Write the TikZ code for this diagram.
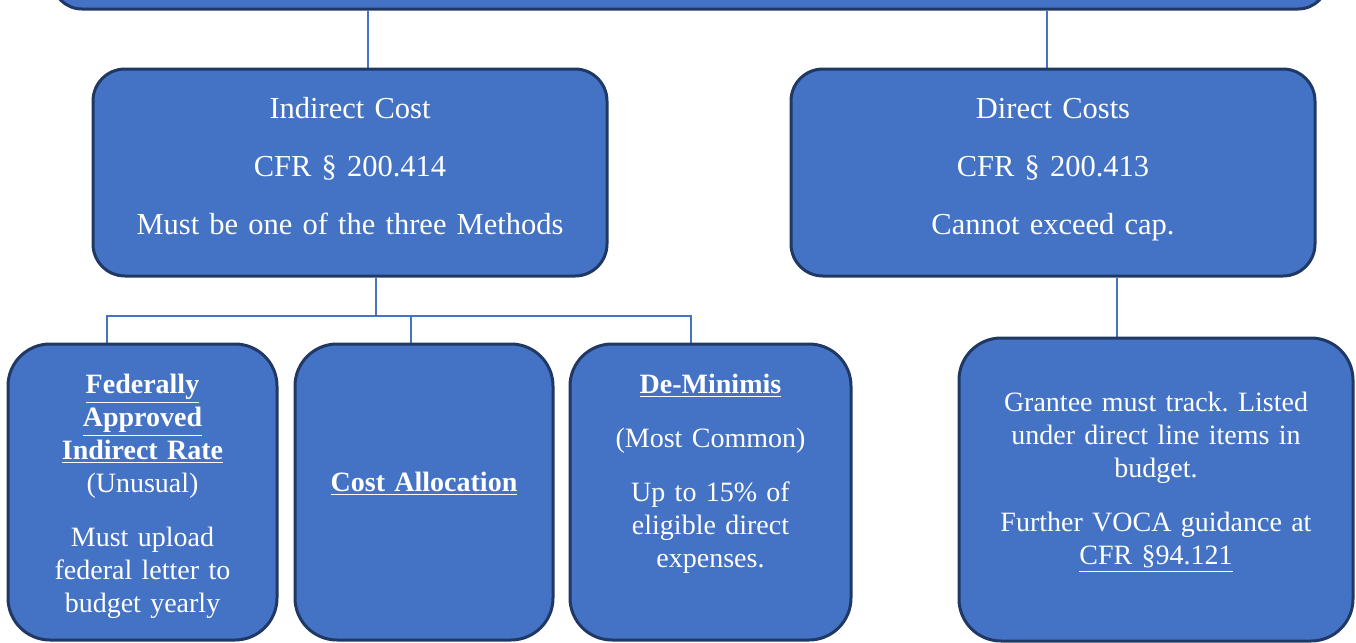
\documentclass[tikz,border=0pt]{standalone}
\usepackage{fontspec}
\setmainfont{Liberation Serif}
\usepackage{xcolor}
\definecolor{boxfill}{RGB}{68,114,196}
\definecolor{boxline}{RGB}{32,56,100}
\definecolor{wire}{RGB}{68,114,196}
\usepackage{tikz}
\usetikzlibrary{positioning}
\usetikzlibrary{backgrounds}
\newcommand{\lift}[1]{\par\vspace*{#1}}
\frenchspacing

\begin{document}
\begin{tikzpicture}[x=0.5pt,y=-0.5pt,
  box/.style={draw=boxline,fill=boxfill,line width=1.5pt,rounded corners=16pt,text=white,align=center},
  mid/.style={box,minimum width=257pt,minimum height=103.5pt,text width=230pt,font=\fontsize{15.25}{29}\selectfont},
  low/.style={box,rounded corners=21pt,minimum height=148pt,font=\fontsize{14}{16.5}\selectfont},
  conn/.style={draw=wire,line width=1.25pt}]
\useasboundingbox (0,0) rectangle (1356,643);
\node[box,minimum width=638pt,minimum height=60pt,rounded corners=15pt] (top) at (690,-51) {};
\node[mid] (indirect) at (350,172.5) {Indirect Cost\\CFR § 200.414\\Must be one of the three Methods\lift{6.5pt}};
\node[mid,minimum width=262pt] (direct) at (1053,172.5) {Direct Costs\\CFR § 200.413\\Cannot exceed cap.\lift{2.5pt}};
\node[low,minimum width=134.5pt,text width=115pt] (fed) at (142.5,492) {\textbf{\underline{Federally}}\\\textbf{\underline{Approved}}\\\textbf{\underline{Indirect Rate}}\\(Unusual)\\[10.5pt]Must upload\\federal letter to\\budget yearly\lift{-4pt}};
\node[low,minimum width=129pt,text width=110pt] (cost) at (424,492) {\textbf{\underline{Cost Allocation}}\lift{8pt}};
\node[low,minimum width=140.5pt,text width=120pt] (minimis) at (710.5,492) {\textbf{\underline{De-Minimis}}\\[10.5pt](Most Common)\\[10.5pt]Up to 15\% of\\eligible direct\\expenses.\lift{18pt}};
\node[low,minimum width=197pt,minimum height=151.5pt,text width=180pt] (grantee) at (1156,489.5) {Grantee must track. Listed\\under direct line items in\\budget.\\[10.5pt]Further VOCA guidance at\\\underline{CFR §94.121}\lift{7pt}};
\coordinate (bus) at (0,316);
\begin{scope}[on background layer]
\draw[conn] ([xshift=9pt]indirect.north) -- ([xshift=9pt]indirect.north |- top.south);
\draw[conn] ([xshift=-3pt]direct.north) -- ([xshift=-3pt]direct.north |- top.south);
\draw[conn] ([xshift=13pt]indirect.south) -- ([xshift=13pt]indirect.south |- bus);
\draw[conn] ([xshift=-17.75pt]fed.north) |- ([xshift=-9.75pt]minimis.north |- bus) -- ([xshift=-9.75pt]minimis.north);
\draw[conn] ([xshift=-6.5pt]cost.north) -- ([xshift=-6.5pt]cost.north |- bus);
\draw[conn] ([xshift=-19.5pt]grantee.north) -- ([xshift=-19.5pt]grantee.north |- direct.south);
\end{scope}
\end{tikzpicture}
\end{document}
